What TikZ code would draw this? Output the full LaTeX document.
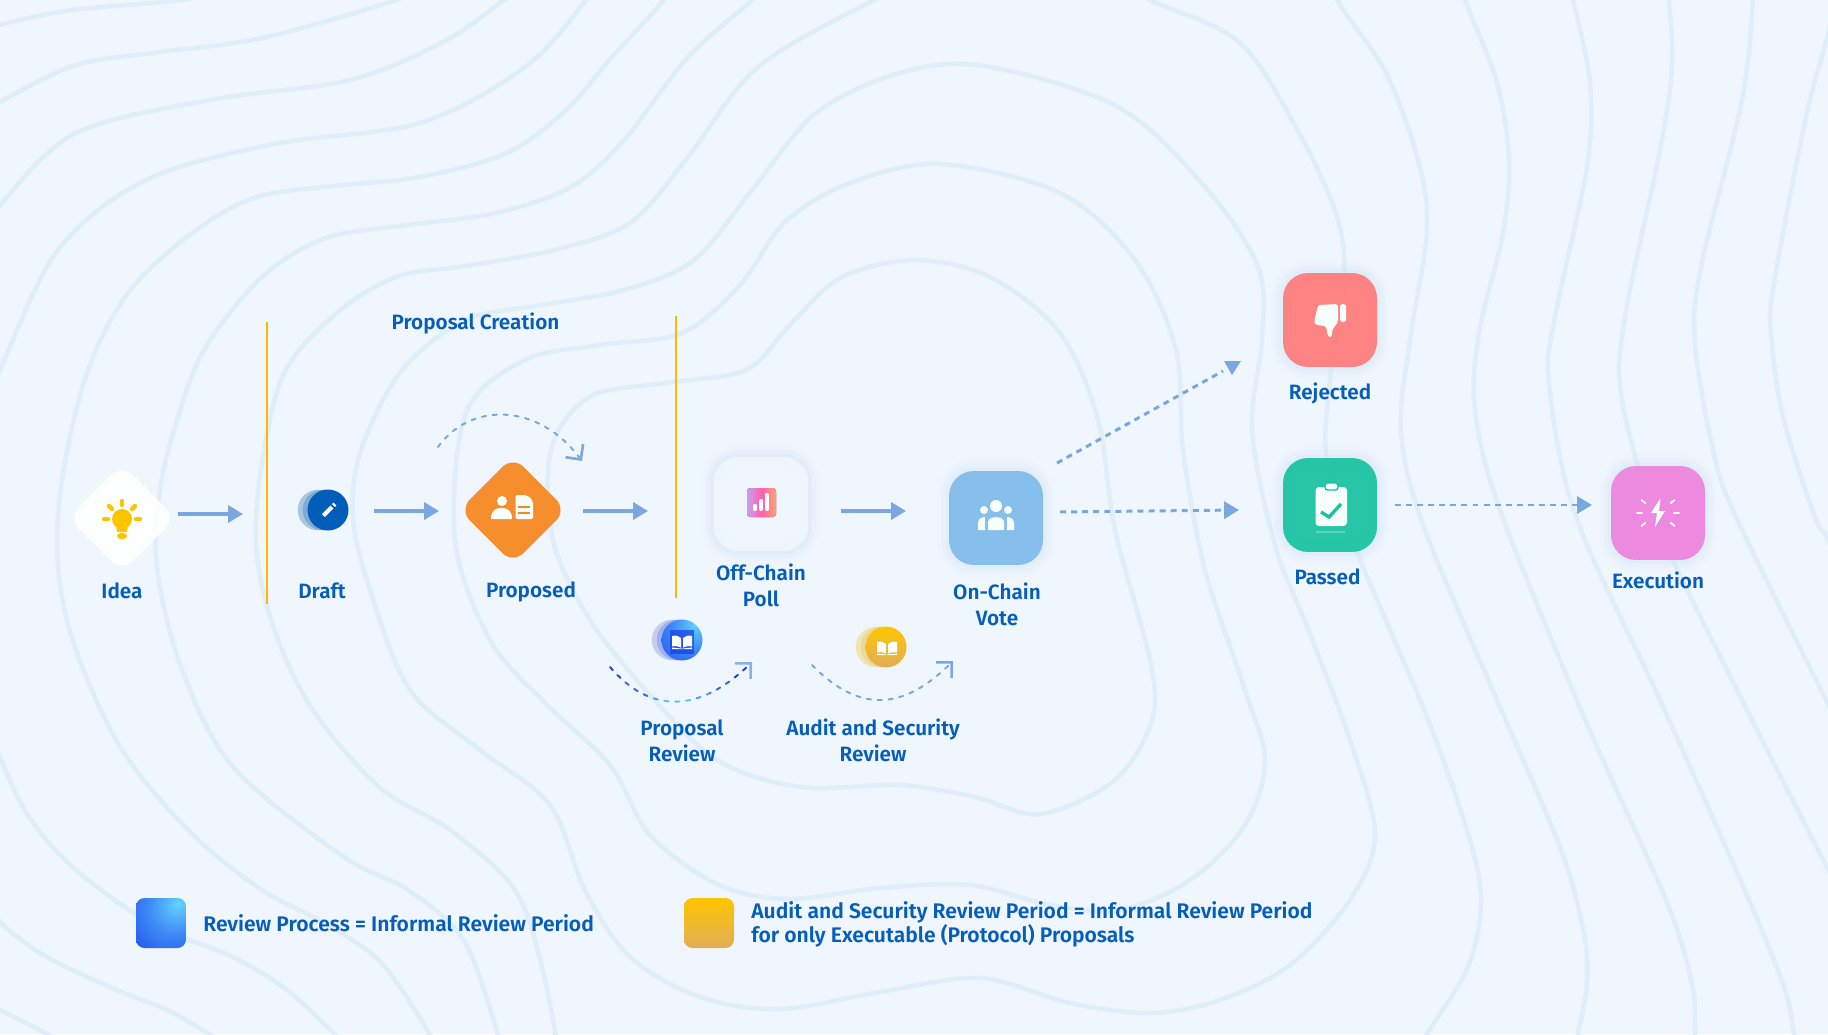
\documentclass[tikz,border=0pt]{standalone}
\usepackage{fontspec}
\usepackage{amsmath}
\setmainfont{Fira Sans}[UprightFont=* SemiBold]
\usetikzlibrary{arrows.meta}

\definecolor{pagec}{HTML}{F0F6FE}
\definecolor{contourc}{HTML}{E0EEFA}
\definecolor{flowc}{HTML}{7AA8DE}
\definecolor{bluetxt}{HTML}{065EBB}
\definecolor{linec}{HTML}{FFB800}
\definecolor{glowc}{HTML}{BFE0F3}
\definecolor{spota}{HTML}{64D4FF}
\definecolor{spotb}{HTML}{3F8CF6}
\definecolor{spotc}{HTML}{2357EC}
\definecolor{spotd}{HTML}{1230E6}
\definecolor{icowhite}{HTML}{F6FFFB}
\definecolor{tealc}{HTML}{1BC3A3}
\definecolor{orangec}{HTML}{F7871E}
\definecolor{skyc}{HTML}{80BCEA}
\definecolor{redc}{HTML}{FF7C7C}
\definecolor{pinkc}{HTML}{ED84DF}
\definecolor{draftc}{HTML}{005EB8}
\definecolor{golda}{HTML}{FFC400}
\definecolor{goldb}{HTML}{E0AE58}
\definecolor{chartl}{HTML}{C9A0F0}
\definecolor{chartm}{HTML}{FF5FB0}
\definecolor{chartr}{HTML}{FFA56A}
\definecolor{tipc}{HTML}{8DB0E8}

\pgfdeclareradialshading{bluespot}{\pgfpoint{18bp}{20bp}}{color(0bp)=(spota);color(25bp)=(spotb);color(50bp)=(spotc);color(90bp)=(spotd);color(100bp)=(spotd)}

\newcommand{\openbook}[1]{%
	\fill[#1] (-10,-6) .. controls (-6,-7) and (-3,-6) .. (-1,-4) -- (-1,5.5) .. controls (-3,4) and (-6,4) .. (-10,4.5) -- cycle;
	\fill[#1] (10,-6) .. controls (6,-7) and (3,-6) .. (1,-4) -- (1,5.5) .. controls (3,4) and (6,4) .. (10,4.5) -- cycle;
	\fill[#1] (-10,5.5) -- (-1,6.5) -- (1,6.5) -- (10,5.5) -- (10,7) -- (-10,7) -- cycle;}

\begin{document}
\begin{tikzpicture}[x=0.02cm,y=-0.02cm,line cap=butt,
	contour/.style={draw=contourc,line width=2.6pt},
	curve/.style={smooth,tension=.55},
	flow/.style={draw=flowc,line width=1.9pt,-{Triangle[length=8.5pt,width=9.7pt]}},
	flowdash/.style={draw=flowc,line width=1.7pt,dash pattern=on 3.4pt off 2.9pt},
	loopdash/.style={line width=1.1pt,line cap=round,dash pattern=on 2.4pt off 3.8pt},
	barb/.style={-{Straight Barb[length=6.3pt,width=12.5pt,line width=1.5pt]}},
	yline/.style={draw=linec,line width=1.3pt},
	txt/.style={text=bluetxt,inner sep=0pt,align=center,font=\fontsize{11.8}{14.8}\selectfont},
	legendtxt/.style={text=bluetxt,inner sep=0pt,align=left,anchor=west,font=\fontsize{12}{13.6}\selectfont},
	glow/.style={preaction={draw=glowc,line width=14pt,opacity=.06},preaction={draw=glowc,line width=9pt,opacity=.1},preaction={draw=glowc,line width=4pt,opacity=.16}},
	box/.style={rectangle,rounded corners=.5cm,minimum size=1.88cm,inner sep=0pt,fill=#1,fill opacity=.94,glow},
	rhomb/.style={rectangle,rotate=45,rounded corners=.3cm,minimum size=1.52cm,inner sep=0pt,fill=#1,fill opacity=.93},
	coin/.style={circle,minimum size=.82cm,inner sep=0pt},
	swatch/.style={rectangle,rounded corners=.17cm,minimum size=1cm,inner sep=0pt},
	ico/.style={fill=icowhite,draw=none}]
	\useasboundingbox (0,0) rectangle (1828,1034);
	\fill[pagec] (0,0) rectangle (1828,1034);

	% contour lines behind everything
	\begin{scope}
		\clip (0,0) rectangle (1828,1034);
		\draw[contour] plot[smooth cycle,tension=.55] coordinates {(589,397) (665,383) (746,370) (790,325) (840,278) (914,260) (990,277) (1060,333) (1098,420) (1115,530) (1150,660) (1152,720) (1115,780) (1040,814) (975,797) (900,785) (800,787) (717,760) (650,695) (590,620) (553,540) (551,450)};
		\draw[contour] plot[smooth cycle,tension=.55] coordinates {(600,345) (682,333) (740,285) (785,222) (850,183) (940,164) (1060,193) (1135,260) (1176,350) (1183,450) (1205,570) (1245,690) (1265,760) (1245,825) (1190,880) (1120,910) (1050,905) (970,885) (880,888) (787,899) (717,884) (650,835) (610,765) (545,703) (490,640) (455,540) (466,413) (525,360)};
		\draw[contour] plot[smooth cycle,tension=.55] coordinates {(542,305) (624,290) (694,260) (752,190) (816,113) (900,73) (984,66) (1118,107) (1205,187) (1258,267) (1262,340) (1252,430) (1275,545) (1310,634) (1350,740) (1375,834) (1350,900) (1290,965) (1220,1000) (1150,1013) (1070,1003) (980,978) (880,992) (780,1009) (700,997) (630,957) (585,890) (550,805) (480,750) (410,690) (370,590) (353,517) (361,450) (402,370) (466,320)};
		\foreach \P in {
			{(560,1060) (542,967) (515,890) (450,830) (379,787) (309,704) (268,610) (256,517) (280,383) (332,317) (396,277) (466,266) (554,250) (630,223) (688,157) (758,67) (874,0) (960,-40)},
			{(1090,-30) (1150,0) (1240,43) (1299,133) (1337,217) (1344,280) (1330,380) (1327,460) (1357,552) (1427,717) (1468,834) (1481,900) (1468,967) (1427,1034) (1400,1080)},
			{(505,1060) (466,944) (408,890) (344,857) (233,767) (181,667) (157,567) (160,490) (175,427) (204,350) (262,277) (326,238) (408,225) (496,213) (571,187) (624,140) (688,57) (752,0) (800,-50)},
			{(1310,-60) (1337,0) (1386,73) (1418,160) (1427,230) (1410,340) (1401,433) (1425,530) (1497,700) (1561,850) (1584,934) (1587,984) (1578,1034) (1570,1080)},
			{(445,1060) (385,967) (326,924) (262,890) (192,834) (122,750) (76,650) (58,567) (62,480) (87,373) (128,293) (192,233) (257,197) (344,185) (420,177) (507,153) (566,110) (612,57) (664,0) (700,-50)},
			{(1440,-70) (1465,0) (1497,83) (1509,160) (1503,233) (1479,333) (1475,410) (1500,510) (1584,717) (1666,900) (1692,984) (1695,1034) (1695,1080)},
			{(360,1060) (292,994) (233,957) (152,924) (76,870) (29,817) (0,757) (-20,700)},
			{(-20,420) (0,370) (58,250) (146,180) (274,144) (420,123) (525,67) (586,0) (610,-40)},
			{(1560,-50) (1573,0) (1590,83) (1587,167) (1555,317) (1549,383) (1576,517) (1660,700) (1742,884) (1783,984) (1794,1034) (1800,1080)},
			{(250,1060) (175,1014) (117,990) (47,957) (0,922) (-30,880)},
			{(-30,250) (0,205) (76,133) (210,100) (350,80) (443,42) (504,0) (540,-30)},
			{(1665,-50) (1669,0) (1672,67) (1660,150) (1625,317) (1622,400) (1660,530) (1742,700) (1828,870) (1860,940)},
			{(90,1060) (47,1034) (0,1010) (-40,990)},
			{(-40,130) (0,102) (76,65) (152,53) (262,38) (396,0) (450,-25)},
			{(1755,-50) (1753,0) (1742,100) (1701,267) (1695,343) (1713,450) (1736,517) (1828,704) (1860,770)},
			{(-40,40) (0,25) (73,10) (181,0) (260,-15)},
			{(1840,-30) (1828,33) (1806,117) (1774,283) (1771,333) (1783,417) (1815,517) (1828,540) (1850,600)}}
		{\draw[contour] plot[curve] coordinates \P;}
	\end{scope}

	\draw[yline] (267,322) -- (267,604);
	\draw[yline] (676,316) -- (676,598);

	\node[rhomb=white] (idea) at (122,518) {};
	\node[rhomb=orangec] (proposed) at (513,510) {};
	\node[box=pagec] (offchain) at (761,504) {};
	\node[box=skyc] (onchain) at (996,518) {};
	\node[box=redc] (rejected) at (1330,320) {};
	\node[box=tealc] (passed) at (1330,505) {};
	\node[box=pinkc] (execution) at (1658,513) {};

	\foreach \X/\Y/\Ca/\Cb in {328/510/A9C7E1/7FABD3,682/640/C4CFF0/9DB1EC,886/647/F0E6B4/E9DB96}
	{\definecolor{ghosta}{HTML}{\Ca}\definecolor{ghostb}{HTML}{\Cb}
		\fill[ghosta] (\X-10,\Y) circle[radius=20.3];
		\fill[ghostb] (\X-5,\Y) circle[radius=20.3];}
	\node[coin,fill=draftc] (draft) at (328,510) {};
	\node[coin,shading=bluespot] (propreview) at (682,640) {};
	\node[coin,top color=golda,bottom color=goldb] (auditreview) at (886,647) {};

	% solid arrows, shifted off the node centres
	\foreach \A/\B/\ax/\ay/\bx/\by in {idea/draft/56/-4/-85/4,draft/proposed/46/1/-74/1,proposed/offchain/70/1/-113/7,offchain/onchain/80/7/-90/-7}
	{\draw[flow] ([shift={(\ax,\ay)}]\A.center) -- ([shift={(\bx,\by)}]\B.center);}

	\draw[flowdash] ([shift={(61,-55)}]onchain.center) -- ([shift={(-107,51)}]rejected.center);
	\fill[flowc] (1224,361) -- (1241,361) -- (1232,375) -- cycle;
	\draw[flowdash,-{Triangle[length=8.5pt,width=9.7pt]}] ([shift={(64,-6)}]onchain.center) -- ([shift={(-91,5)}]passed.center);
	\draw[flowdash,-{Triangle[length=8.5pt,width=9.7pt]}] ([shift={(65,0)}]passed.center) -- ([shift={(-66,-8)}]execution.center);

	% dashed arcs
	\draw[loopdash,barb,flowc] ([shift={(-75,-63)}]proposed.center) .. controls (470,402) and (538,402) .. ([shift={(69,-49)}]proposed.center);
	\foreach \Xa/\Xb/\Cc in {600/625/1F3FE0,625/650/3568E8,650/664/4C9CF0,664/694/5CC0FF,694/710/4C9CF0,710/730/3568E8,730/747/1F3FE0}
	{\definecolor{bandc}{HTML}{\Cc}
		\begin{scope}
			\clip (\Xa,650) rectangle (\Xb,720);
			\draw[loopdash,bandc] ([shift={(-72,27)}]propreview.center) .. controls (650,714) and (700,714) .. ([shift={(70,22)}]propreview.center);
		\end{scope}}
	\draw[barb,line width=1.1pt,tipc] ([shift={(68,24)}]propreview.center) -- ([shift={(70,22)}]propreview.center);
	\draw[loopdash,barb,flowc] ([shift={(-74,18)}]auditreview.center) .. controls (858,712) and (902,712) .. ([shift={(67,14)}]auditreview.center);

	% icons
	\fill[golda] (122,519) circle[radius=10];
	\fill[golda] (116,525) -- (128,525) -- (127,532) -- (117,532) -- cycle;
	\fill[golda,rounded corners=2pt] (117,533) -- (127,533) -- (127,539) -- (117,539) -- cycle;
	\foreach \Xa/\Ya/\Xb/\Yb in {122/501/122/505,104/519/108/519,136/519/140/519,109/506/112/509,135/506/132/509}
	{\draw[golda,line width=2.5pt,line cap=round] (\Xa,\Ya) -- (\Xb,\Yb);}

	\draw[white,line width=2.4pt] (323.5,515.5) -- (332,507);
	\draw[white,line width=2.4pt] (333.5,505.5) -- (335,504);

	\fill[ico] (502,501) circle[radius=5];
	\fill[ico] (491,519) .. controls (491,510) and (496,508) .. (501.5,508) .. controls (507,508) and (512,510) .. (512,519) -- cycle;
	\fill[ico,rounded corners=1.2pt] (515.5,495) -- (527,495) -- (533,501) -- (533,519) -- (515.5,519) -- cycle;
	\foreach \Y in {507,513}
	{\draw[orangec,line width=1.3pt] (518,\Y) -- (530,\Y);}

	\fill[left color=chartl,right color=chartr,middle color=chartm,rounded corners=2pt] (747,488) rectangle (776,517);
	\foreach \X/\Y in {755/506,761/501,767/495}
	{\draw[white,line width=2.4pt,line cap=round] (\X,\Y) -- (\X,509);}

	\fill[ico] (996,506) circle[radius=6];
	\fill[ico] (984,510) circle[radius=4];
	\fill[ico] (1008,510) circle[radius=4];
	\fill[ico] (988,530) -- (988,522) .. controls (988,515.5) and (1004,515.5) .. (1004,522) -- (1004,530) -- cycle;
	\fill[ico] (978,530) -- (978,523) .. controls (978,519) and (982,517) .. (985,517) .. controls (984.5,521) and (985,525) .. (985,530) -- cycle;
	\fill[ico] (1014,530) -- (1014,523) .. controls (1014,519) and (1010,517) .. (1007,517) .. controls (1007.5,521) and (1007,525) .. (1007,530) -- cycle;

	\fill[ico,rounded corners=1.5pt] (1318,305) -- (1338,304) -- (1338,322) -- (1332,330) -- (1332,337) -- (1328,337) -- (1326,326) -- (1316,325) -- (1314,322) -- cycle;
	\fill[ico,rounded corners=1.5pt] (1340,304) rectangle (1346,322);

	\fill[ico,rounded corners=2pt] (1315.5,487) rectangle (1347,526);
	\filldraw[fill=icowhite,draw=tealc,line width=.8pt,rounded corners=1.5pt] (1325,483) rectangle (1338,490);
	\draw[tealc,line width=1.9pt] (1321,512) -- (1329,517) -- (1341,504);
	\draw[icowhite,opacity=.25,line width=.8pt] (1316,532) -- (1345,532);

	\fill[ico] (1660.5,498) -- (1651,513) -- (1657,513) -- (1655,527) -- (1665,511) -- (1659,511) -- cycle;
	\foreach \Ang in {0,180,38,142,218,322}
	{\draw[white,line width=1pt,line cap=round] ([shift={(\Ang:16)}]1658,513) -- ([shift={(\Ang:21)}]1658,513);}

	\begin{scope}[shift={(682,642)}]
		\fill[spotd!70!spotc,opacity=.7] (-12,-12) rectangle (12,12);
		\openbook{white}
	\end{scope}
	\begin{scope}[shift={(887,648)}]
		\openbook{white}
	\end{scope}

	% labels
	\node[txt] (ideatxt) at (122,591) {Idea};
	\node[txt] (drafttxt) at (322,591) {Draft};
	\node[txt] (proposedtxt) at (531,592) {Proposed};
	\node[txt] (creationtxt) at (475.5,323) {Proposal Creation};
	\node[txt] (offchaintxt) at (761,585) {Off-Chain\\Poll};
	\node[txt] (onchaintxt) at (997,604) {On-Chain\\Vote};
	\node[txt] (propreviewtxt) at (682,741) {Proposal\\Review};
	\node[txt] (audittxt) at (873,740) {Audit and Security\\Review};
	\node[txt] (rejectedtxt) at (1330,393) {Rejected};
	\node[txt] (passedtxt) at (1327.5,577) {Passed};
	\node[txt] (executiontxt) at (1658,580) {Execution};

	% legend
	\node[swatch,shading=bluespot] (legblue) at (161,923) {};
	\node[swatch,top color=golda,bottom color=goldb] (legyellow) at (709,923) {};
	\node[legendtxt] (legbluetxt) at (203,923) {Review Process = Informal Review Period};
	\node[legendtxt] (legyellowtxt) at (751,924) {Audit and Security Review Period = Informal Review Period\\for only Executable (Protocol) Proposals};
\end{tikzpicture}
\end{document}
